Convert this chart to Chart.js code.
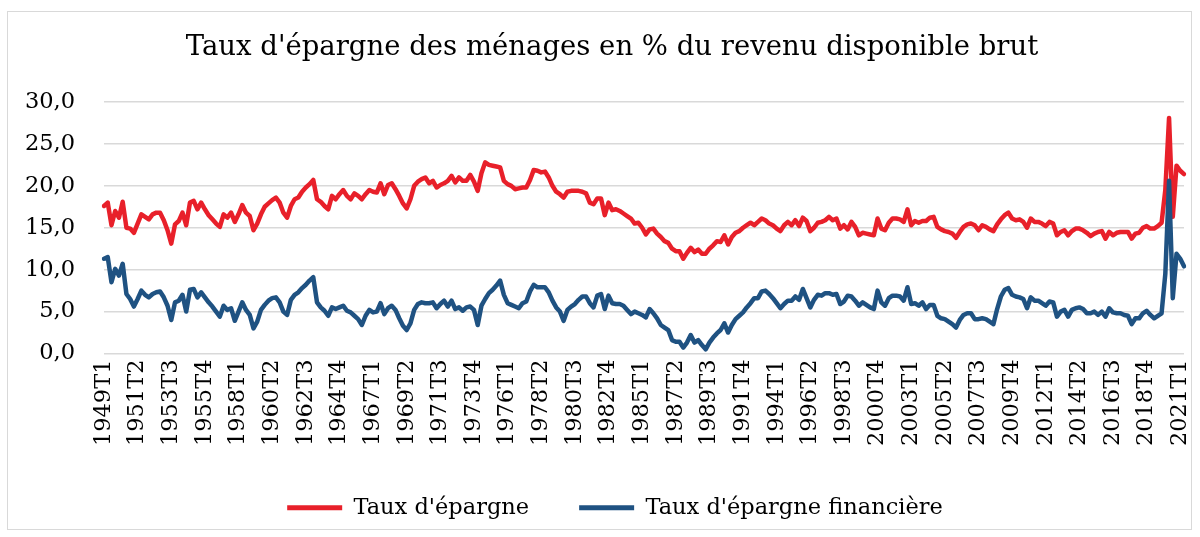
<!DOCTYPE html>
<html><head><meta charset="utf-8">
<script src="https://cdn.jsdelivr.net/npm/chart.js@4.4.0/dist/chart.umd.min.js"></script>
<style>
html,body{margin:0;padding:0;background:#fff;}
canvas{display:block;}
</style></head><body>
<canvas id="c" width="1200" height="537"></canvas>
<script>
// Categories: quarters 1949T1 .. 2021T2
const categories = [];
for (let y = 1949; y <= 2021; y++) {
  for (let q = 1; q <= 4; q++) {
    if (y === 2021 && q > 2) break;
    categories.push(y + 'T' + q);
  }
}

const tickLabels = ['1949T1','1951T2','1953T3','1955T4','1958T1','1960T2','1962T3','1964T4',
  '1967T1','1969T2','1971T3','1973T4','1976T1','1978T2','1980T3','1982T4','1985T1','1987T2',
  '1989T3','1991T4','1994T1','1996T2','1998T3','2000T4','2003T1','2005T2','2007T3','2009T4',
  '2012T1','2014T2','2016T3','2018T4','2021T1'];

const yTicks = [0, 5, 10, 15, 20, 25, 30];

const tauxEpargne = [
  17.6, 18.0, 15.3, 17.0, 16.2, 18.1, 15.0, 14.9, 14.4, 15.5,
  16.6, 16.3, 16.0, 16.6, 16.8, 16.8, 15.9, 14.7, 13.1, 15.4,
  15.8, 16.8, 15.3, 18.0, 18.2, 17.2, 18.0, 17.2, 16.5, 16.0,
  15.5, 15.1, 16.6, 16.2, 16.8, 15.7, 16.6, 17.7, 16.8, 16.4,
  14.7, 15.5, 16.6, 17.5, 17.9, 18.3, 18.6, 18.0, 16.8, 16.2,
  17.6, 18.4, 18.6, 19.3, 19.8, 20.2, 20.7, 18.4, 18.1, 17.6,
  17.2, 18.8, 18.4, 19.0, 19.5, 18.8, 18.4, 19.1, 18.8, 18.4,
  19.0, 19.5, 19.3, 19.2, 20.3, 19.0, 20.1, 20.3, 19.6, 18.8,
  17.9, 17.3, 18.4, 20.0, 20.5, 20.8, 21.0, 20.3, 20.6, 19.8,
  20.1, 20.3, 20.6, 21.2, 20.4, 21.0, 20.6, 20.6, 21.3, 20.5,
  19.4, 21.5, 22.8, 22.5, 22.4, 22.3, 22.2, 20.6, 20.2, 20.0,
  19.6, 19.7, 19.8, 19.8, 20.7, 21.9, 21.8, 21.6, 21.7, 21.0,
  20.0, 19.3, 19.0, 18.6, 19.3, 19.4, 19.4, 19.4, 19.3, 19.1,
  18.0, 17.8, 18.5, 18.5, 16.5, 18.0, 17.1, 17.2, 17.0, 16.7,
  16.4, 16.1, 15.5, 15.6, 15.0, 14.2, 14.8, 14.9, 14.3, 13.9,
  13.4, 13.2, 12.5, 12.2, 12.2, 11.3, 12.0, 12.6, 12.1, 12.4,
  11.9, 11.9, 12.5, 12.9, 13.4, 13.3, 14.1, 13.0, 13.9, 14.4,
  14.6, 15.0, 15.3, 15.6, 15.3, 15.7, 16.1, 15.9, 15.5, 15.3,
  14.9, 14.6, 15.3, 15.7, 15.3, 15.9, 15.2, 16.2, 15.8, 14.6,
  15.0, 15.6, 15.7, 15.9, 16.3, 15.9, 16.1, 14.9, 15.3, 14.8,
  15.7, 15.1, 14.1, 14.4, 14.3, 14.2, 14.1, 16.1, 14.9, 14.7,
  15.6, 16.1, 16.1, 16.0, 15.7, 17.2, 15.3, 15.8, 15.6, 15.8,
  15.8, 16.2, 16.3, 15.1, 14.8, 14.6, 14.5, 14.3, 13.8, 14.5,
  15.1, 15.4, 15.5, 15.3, 14.7, 15.3, 15.1, 14.8, 14.6, 15.4,
  16.0, 16.5, 16.8, 16.1, 15.9, 16.0, 15.7, 15.0, 16.1, 15.7,
  15.7, 15.5, 15.2, 15.7, 15.5, 14.1, 14.5, 14.7, 14.1, 14.6,
  14.9, 14.9, 14.7, 14.4, 14.0, 14.3, 14.5, 14.6, 13.7, 14.5,
  14.1, 14.4, 14.5, 14.5, 14.5, 13.7, 14.3, 14.4, 15.0, 15.2,
  14.9, 14.9, 15.2, 15.6, 19.5, 28.1, 16.3, 22.4, 21.8, 21.4
];

const tauxEpargneFin = [
  11.3, 11.5, 8.5, 10.1, 9.3, 10.7, 7.1, 6.5, 5.6, 6.5,
  7.5, 7.0, 6.7, 7.1, 7.3, 7.4, 6.7, 5.7, 4.0, 6.1,
  6.3, 7.0, 5.0, 7.6, 7.7, 6.7, 7.3, 6.7, 6.1, 5.6,
  5.0, 4.4, 5.7, 5.2, 5.4, 3.9, 5.0, 6.1, 5.2, 4.6,
  3.0, 3.8, 5.2, 5.8, 6.3, 6.6, 6.7, 6.1, 5.0, 4.6,
  6.4, 7.0, 7.3, 7.8, 8.2, 8.7, 9.1, 6.1, 5.5, 5.1,
  4.5, 5.5, 5.3, 5.5, 5.7, 5.1, 4.9, 4.5, 4.1, 3.4,
  4.5, 5.2, 4.9, 5.0, 6.0, 4.7, 5.4, 5.7, 5.2, 4.2,
  3.3, 2.8, 3.6, 5.2, 5.9, 6.1, 6.0, 6.0, 6.1, 5.4,
  5.9, 6.3, 5.6, 6.3, 5.3, 5.5, 5.1, 5.5, 5.6, 5.2,
  3.4, 5.7, 6.5, 7.2, 7.6, 8.1, 8.7, 7.0, 6.0, 5.8,
  5.6, 5.4, 6.0, 6.2, 7.4, 8.2, 7.9, 7.9, 7.9, 7.3,
  6.3, 5.5, 5.0, 3.9, 5.2, 5.6, 5.9, 6.4, 6.8, 6.8,
  6.0, 5.5, 6.9, 7.1, 5.3, 6.9, 6.0, 5.9, 5.9, 5.7,
  5.2, 4.7, 5.0, 4.8, 4.6, 4.3, 5.3, 4.8, 4.2, 3.4,
  3.1, 2.8, 1.6, 1.4, 1.4, 0.7, 1.3, 2.2, 1.3, 1.6,
  1.0, 0.5, 1.3, 1.9, 2.4, 2.8, 3.6, 2.5, 3.4, 4.1,
  4.5, 4.9, 5.5, 6.0, 6.6, 6.6, 7.4, 7.5, 7.1, 6.6,
  6.0, 5.4, 5.9, 6.3, 6.3, 6.8, 6.4, 7.7, 6.6, 5.5,
  6.4, 7.0, 6.9, 7.2, 7.2, 7.0, 7.1, 5.9, 6.2, 6.9,
  6.8, 6.3, 5.7, 6.1, 5.8, 5.5, 5.3, 7.5, 6.1, 5.7,
  6.6, 6.9, 6.9, 6.8, 6.3, 7.9, 5.9, 6.0, 5.7, 6.1,
  5.3, 5.8, 5.8, 4.5, 4.2, 4.1, 3.8, 3.5, 3.1, 4.0,
  4.6, 4.8, 4.8, 4.1, 4.1, 4.2, 4.1, 3.8, 3.5, 5.3,
  6.8, 7.6, 7.8, 7.0, 6.8, 6.7, 6.5, 5.4, 6.7, 6.3,
  6.3, 6.0, 5.7, 6.2, 6.1, 4.4, 5.0, 5.2, 4.4, 5.2,
  5.4, 5.5, 5.3, 4.8, 4.8, 5.0, 4.6, 5.0, 4.4, 5.4,
  4.9, 4.8, 4.8, 4.6, 4.5, 3.5, 4.2, 4.2, 4.8, 5.1,
  4.6, 4.2, 4.5, 4.8, 9.5, 20.6, 6.6, 11.9, 11.3, 10.4
];

const RED = '#E8202A';
const BLUE = '#1F5282';
const FONT = "'DejaVu Serif', Georgia, serif";
const TEXT = '#000000';

const frame = {
  id: 'frame',
  afterLayout(chart) {
    // Excel centres title and legend slightly right of the canvas centre
    if (chart.titleBlock) { chart.titleBlock.left += 15; chart.titleBlock.right += 15; }
    if (chart.legend) { chart.legend.left += 18; chart.legend.right += 18; }
  },
  beforeDraw(chart) {
    const c = chart.ctx;
    c.save();
    c.fillStyle = '#ffffff';
    c.fillRect(0, 0, chart.width, chart.height);
    c.strokeStyle = '#d9d9d9';
    c.lineWidth = 1;
    c.strokeRect(7.5, 11.5, 1184, 518);
    c.restore();
  }
};

new Chart(document.getElementById('c'), {
  type: 'line',
  data: {
    labels: categories,
    datasets: [
      { label: "Taux d'épargne", data: tauxEpargne, borderColor: RED, backgroundColor: RED,
        borderWidth: 4.5, pointRadius: 0, tension: 0, order: 1,
        borderJoinStyle: 'round', borderCapStyle: 'round' },
      { label: "Taux d'épargne financière", data: tauxEpargneFin, borderColor: BLUE, backgroundColor: BLUE,
        borderWidth: 4.5, pointRadius: 0, tension: 0, order: 0,
        borderJoinStyle: 'round', borderCapStyle: 'round' }
    ]
  },
  options: {
    responsive: false,
    animation: false,
    layout: { padding: { left: 10, right: 16, top: 14, bottom: 8 } },
    plugins: {
      title: {
        display: true,
        text: "Taux d'épargne des ménages en % du revenu disponible brut",
        color: TEXT,
        font: { family: FONT, size: 27.5, weight: 'normal' },
        padding: { top: 17, bottom: 38 }
      },
      legend: {
        position: 'bottom',
        labels: {
          color: TEXT,
          font: { family: FONT, size: 22.5 },
          boxWidth: 55,
          boxHeight: 5,
          padding: 50,
          sort: (a, b) => a.datasetIndex - b.datasetIndex,
          generateLabels: (chart) => {
            const items = Chart.defaults.plugins.legend.labels.generateLabels(chart);
            items.forEach(it => { it.lineWidth = 0; });
            return items;
          }
        }
      },
      tooltip: { enabled: false }
    },
    scales: {
      x: {
        type: 'category',
        offset: false,
        grid: { display: false, drawTicks: false },
        border: { display: false },
        ticks: {
          autoSkip: false,
          minRotation: 90,
          maxRotation: 90,
          padding: 6,
          color: TEXT,
          font: { family: FONT, size: 22.5 },
          callback: function (value) {
            const l = this.getLabelForValue(value);
            return tickLabels.includes(l) ? l : null;
          }
        },
        afterFit: (s) => { s.height = 93; s.paddingLeft = 0; s.paddingRight = 0; }
      },
      y: {
        min: 0,
        max: 30,
        grid: { color: '#d9d9d9', lineWidth: 1.5, drawTicks: false },
        border: { display: false },
        afterBuildTicks: (s) => { s.ticks = yTicks.map(v => ({ value: v })); },
        ticks: {
          padding: 29,
          color: TEXT,
          font: { family: FONT, size: 22.5 },
          callback: (v) => Number(v).toFixed(1).replace('.', ',')
        },
        afterFit: (s) => { s.width = 94; }
      }
    }
  },
  plugins: [frame]
});
</script>
</body></html>
